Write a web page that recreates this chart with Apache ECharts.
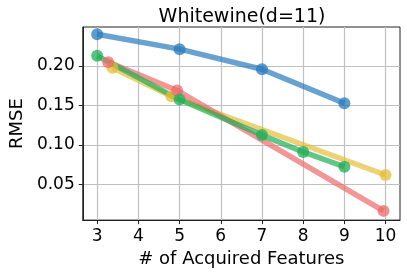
<!DOCTYPE html>
<html>
<head>
<meta charset="utf-8">
<script src="https://cdn.jsdelivr.net/npm/echarts@6/dist/echarts.min.js"></script>
<style>html,body{margin:0;padding:0;background:#fff}#c{width:407px;height:273px}</style>
</head>
<body>
<div id="c"></div>
<script>
const xTicks = [3, 4, 5, 6, 7, 8, 9, 10];
const yTicks = [0.05, 0.10, 0.15, 0.20];
const blueX = [3, 5, 7, 9];
const blueY = [0.2404, 0.2215, 0.196, 0.1528];
const greenX = [3, 5, 7, 8, 9];
const greenY = [0.213, 0.1575, 0.1124, 0.091, 0.0722];
const redX = [3.27, 4.94, 9.95];
const redY = [0.205, 0.169, 0.0162];
const yellowX = [3.37, 4.8, 10];
const yellowY = [0.198, 0.1617, 0.0617];

const pairs = (xs, ys) => xs.map((x, i) => [x, ys[i]]);
const font = 'DejaVu Sans';
const mk = (name, xs, ys, color) => ({
  name, type: 'line', data: pairs(xs, ys),
  symbol: 'circle', symbolSize: 12,
  lineStyle: { color, width: 5.5, opacity: 0.7 },
  itemStyle: { color, opacity: 0.75 },
  emphasis: { disabled: true },
  animation: false
});

const chart = echarts.init(document.getElementById('c'), null, { renderer: 'canvas' });
chart.setOption({
  animation: false,
  title: {
    text: 'Whitewine(d=11)', left: 237, top: 3, textAlign: 'center',
    textStyle: { fontFamily: font, fontSize: 19, fontWeight: 'normal', color: '#000' }
  },
  grid: { left: 73, right: 7, top: 27, bottom: 52, show: true, borderColor: '#222', borderWidth: 1, backgroundColor: 'transparent' },
  xAxis: {
    type: 'value', min: 2.65, max: 10.35,
    name: '# of Acquired Features', nameLocation: 'middle', nameGap: 28,
    nameTextStyle: { fontFamily: font, fontSize: 18, color: '#000' },
    axisLine: { show: true, lineStyle: { color: '#222', width: 1 } },
    axisTick: { show: true, length: 4, inside: false, customValues: xTicks, lineStyle: { color: '#222' } },
    axisLabel: { customValues: xTicks, fontFamily: font, fontSize: 17, color: '#000', margin: 8 },
    splitLine: { show: true, customValues: xTicks, lineStyle: { color: '#c0c0c0', width: 1.2 } }
  },
  yAxis: {
    type: 'value', min: 0.0045, max: 0.2496,
    name: 'RMSE', nameLocation: 'middle', nameGap: 50,
    nameTextStyle: { fontFamily: font, fontSize: 18, color: '#000' },
    axisLine: { show: true, lineStyle: { color: '#222', width: 1 } },
    axisTick: { show: true, length: 4, inside: false, customValues: yTicks, lineStyle: { color: '#222' } },
    axisLabel: { customValues: yTicks, fontFamily: font, fontSize: 17, color: '#000', margin: 8,
      formatter: v => v.toFixed(2) },
    splitLine: { show: true, customValues: yTicks, lineStyle: { color: '#c0c0c0', width: 1.2 } }
  },
  series: [
    mk('yellow', yellowX, yellowY, '#e6bd3a'),
    mk('red', redX, redY, '#ee6a6a'),
    mk('green', greenX, greenY, '#1fae55'),
    mk('blue', blueX, blueY, '#2a7bbd')
  ]
});
</script>
</body>
</html>
